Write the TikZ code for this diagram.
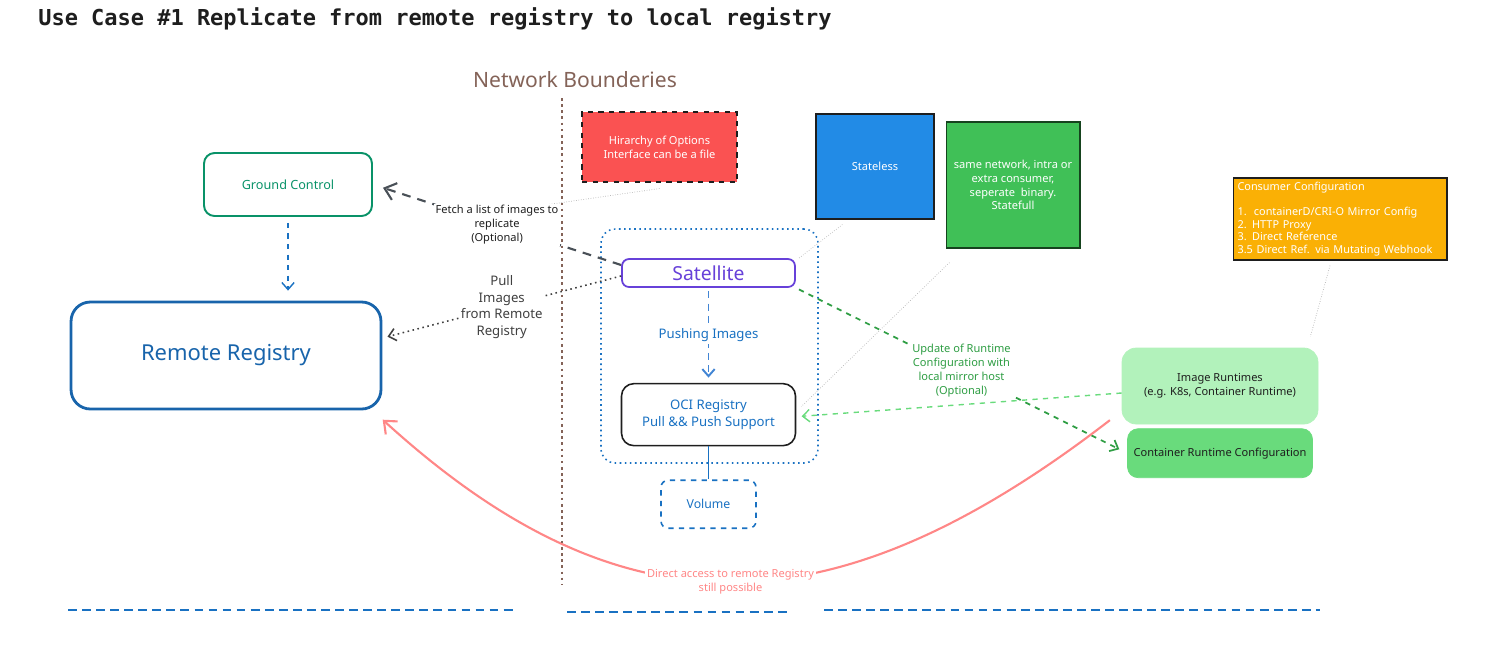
\documentclass[tikz,border=0pt]{standalone}
\usepackage{fontspec}
\setmainfont{Noto Sans}
\newfontfamily\titlefont{DejaVu Sans Mono}
\usetikzlibrary{positioning,arrows.meta,calc}
\definecolor{ink}{HTML}{1E1E1E}
\definecolor{netBrown}{HTML}{846358}
\definecolor{gcGreen}{HTML}{099268}
\definecolor{rrBlue}{HTML}{1864AB}
\definecolor{boxBlue}{HTML}{1971C2}
\definecolor{pushBlue}{HTML}{4285D4}
\definecolor{satPurple}{HTML}{6741D9}
\definecolor{noteRed}{HTML}{FA5252}
\definecolor{noteBlue}{HTML}{228BE6}
\definecolor{noteGreen}{HTML}{40C057}
\definecolor{noteOrange}{HTML}{FAB005}
\definecolor{rtLight}{HTML}{B2F2BB}
\definecolor{rtMid}{HTML}{69DB7C}
\definecolor{updGreen}{HTML}{2F9E44}
\definecolor{directRed}{HTML}{FF8787}
\definecolor{fetchGrey}{HTML}{495057}

\begin{document}
\begin{tikzpicture}[
  x=0.02cm, y=-0.02cm,
  font=\fontsize{6.3}{7.8}\selectfont,
  >={Straight Barb[length=4pt,width=7pt]},
  box/.style={
    draw, rounded corners=6pt, align=center, inner sep=2pt
  },
  note/.style={
    draw=ink, fill=#1, text=white, align=center, inner sep=2pt, line width=0.6pt
  },
  link/.style={->, shorten >=3pt, shorten <=2pt},
  lbl/.style={fill=white, align=center, inner sep=1pt},
  annot/.style={draw=black!30, densely dotted, line width=0.4pt},
  sepline/.style={draw=boxBlue, line width=1.4pt, dash pattern=on 5pt off 3pt}
]
  \useasboundingbox (0,0) rectangle (1510,654);

  % Title
  \node[anchor=west, inner sep=0pt, text=ink,
        font=\titlefont\bfseries\fontsize{12.5}{14}\selectfont] (title) at (38,19)
    {Use Case \#1 Replicate from remote registry to local registry};

  % Network boundaries
  \node[text=netBrown, font=\fontsize{12}{14}\selectfont] (netlabel) at (575,80) {Network Bounderies};
  \coordinate (nettop) at (562,98);
  \coordinate (netbot) at (562,585);

  % Ground Control
  \node[box, draw=gcGreen, text=gcGreen, line width=1.1pt,
        minimum width=3.36cm, minimum height=1.26cm, font=\fontsize{7.2}{9}\selectfont] (gc) at (288,184.5)
    {Ground Control};

  % Remote Registry
  \node[box, draw=rrBlue, text=rrBlue, line width=1.6pt, rounded corners=11pt,
        minimum width=6.2cm, minimum height=2.14cm, font=\fontsize{12.5}{15}\selectfont] (rr) at (226,355.5)
    {Remote Registry};

  % Satellite zone
  \node[draw=boxBlue, dotted, line width=0.9pt, rounded corners=8pt,
        minimum width=4.34cm, minimum height=4.68cm] (zone) at (709.5,346) {};

  % Satellite
  \node[box, draw=satPurple, text=satPurple, line width=1pt, rounded corners=4pt,
        minimum width=3.46cm, minimum height=0.56cm, fill=white, font=\fontsize{11}{13}\selectfont] (sat) at (708.5,273)
    {Satellite};

  % OCI Registry
  \node[box, draw=ink, text=boxBlue, line width=0.9pt, rounded corners=7pt,
        minimum width=3.48cm, minimum height=1.24cm, font=\fontsize{7.5}{9.5}\selectfont,
        below=1.9cm of sat] (oci)
    {OCI Registry\\Pull \&\& Push Support};

  % Volume
  \node[box, dashed, draw=boxBlue, text=boxBlue, line width=0.9pt, rounded corners=4pt,
        minimum width=1.9cm, minimum height=0.96cm, font=\fontsize{7}{9}\selectfont,
        below=0.66cm of oci] (vol)
    {Volume};

  % Notes
  \node[note=noteRed, dashed, minimum width=3.1cm, minimum height=1.4cm] (hier) at (659.5,147)
    {Hirarchy of Options\\Interface can be a file};
  \node[note=noteBlue, minimum width=2.36cm, minimum height=2.1cm] (stateless) at (875,166.5)
    {Stateless};
  \node[note=noteGreen, draw=noteGreen!35!black, minimum width=2.68cm, minimum height=2.52cm] (samenet) at (1013,185)
    {same network, intra or\\extra consumer,\\seperate\ \ binary.\\Statefull};
  \node[note=noteOrange, align=left, text width=4.1cm, inner xsep=0.09cm,
        minimum height=1.64cm, font=\fontsize{6.2}{7.1}\selectfont] (consumer) at (1340,219)
    {Consumer Configuration\\[7.1pt]
     1.\ \ containerD/CRI-O Mirror Config\\
     2. HTTP Proxy\\
     3. Direct Reference\\
     3.5 Direct Ref. via Mutating Webhook};

  % Image Runtimes
  \node[box, draw=rtLight, fill=rtLight, text=ink, rounded corners=8pt,
        minimum width=3.92cm, minimum height=1.52cm] (imgrt) at (1220,386)
    {Image Runtimes\\(e.g. K8s, Container Runtime)};
  \node[box, draw=rtMid, fill=rtMid, text=ink, rounded corners=6pt,
        minimum width=3.7cm, minimum height=0.98cm, below=0.08cm of imgrt] (crc)
    {Container Runtime Configuration};

  % Annotation lines
  \coordinate (fetchnote) at (510,210);
  \draw[annot] ([yshift=-0.12cm]hier.south) -- (fetchnote);
  \draw[annot] ([shift={(27,5)}]stateless.south west) -- ([shift={(3,0)}]sat.north east);
  \draw[annot] ([shift={(4,14)}]samenet.south west) -- ([shift={(5,-8)}]oci.east);
  \draw[annot] ([shift={(-10,5)}]consumer.south) -- ([shift={(-8,-11)}]imgrt.north east);

  % Relations
  \draw[link, dashed, boxBlue, line width=0.8pt, shorten <=3.4pt, shorten >=5.7pt]
    (gc.south) -- (gc.south |- rr.north);
  \draw[link, fetchGrey, line width=1.2pt, dash pattern=on 5pt off 4pt, shorten <=0pt, shorten >=6pt,
        -{Straight Barb[length=6pt,width=10pt]}]
    ([yshift=0.16cm]sat.west) -- node[lbl, text=ink] {Fetch a list of images to\\replicate\\(Optional)} (gc.east);
  \draw[link, dotted, ink!85, line width=0.9pt, shorten <=0pt]
    ([yshift=-0.06cm]sat.west) -- node[lbl, font=\fontsize{7.5}{9.5}\selectfont] {Pull\\Images\\from Remote\\Registry} ([yshift=0.35cm]rr.east);
  \draw[link, pushBlue, line width=1.1pt, dash pattern=on 4pt off 3pt]
    (sat.south) -- node[lbl, text=boxBlue, font=\fontsize{7.5}{9}\selectfont] {Pushing Images} (oci.north);
  \draw[boxBlue, line width=0.9pt] (oci.south) -- (vol.north);
  \draw[link, dashed, updGreen, line width=1pt, shorten >=5pt]
    (sat.south east) -- node[lbl, text=updGreen] {Update of Runtime\\Configuration with\\local mirror host\\(Optional)} (crc.west);
  \draw[link, dashed, rtMid, line width=0.8pt, shorten <=0pt]
    ([yshift=-0.14cm]imgrt.west) -- ([yshift=-0.04cm]oci.east);
  \draw[link, directRed, line width=1.2pt, shorten >=1pt, -{Straight Barb[length=6pt,width=10pt]}]
    ([shift={(-9,32)}]imgrt.west) .. controls (830,636) and (620,636) ..
    node[lbl, text=directRed, pos=0.5] {Direct access to remote Registry\\still possible}
    ([shift={(-1,63)}]rr.east);

  % Boundary line
  \draw[netBrown, line width=1.5pt, dash pattern=on 1.5pt off 2pt] (nettop) -- (netbot);

  % Separators
  \draw[sepline] (68,610) -- (515,610);
  \draw[sepline] (567,612) -- (789,612);
  \draw[sepline] (824,610) -- (1320,610);

\end{tikzpicture}
\end{document}
